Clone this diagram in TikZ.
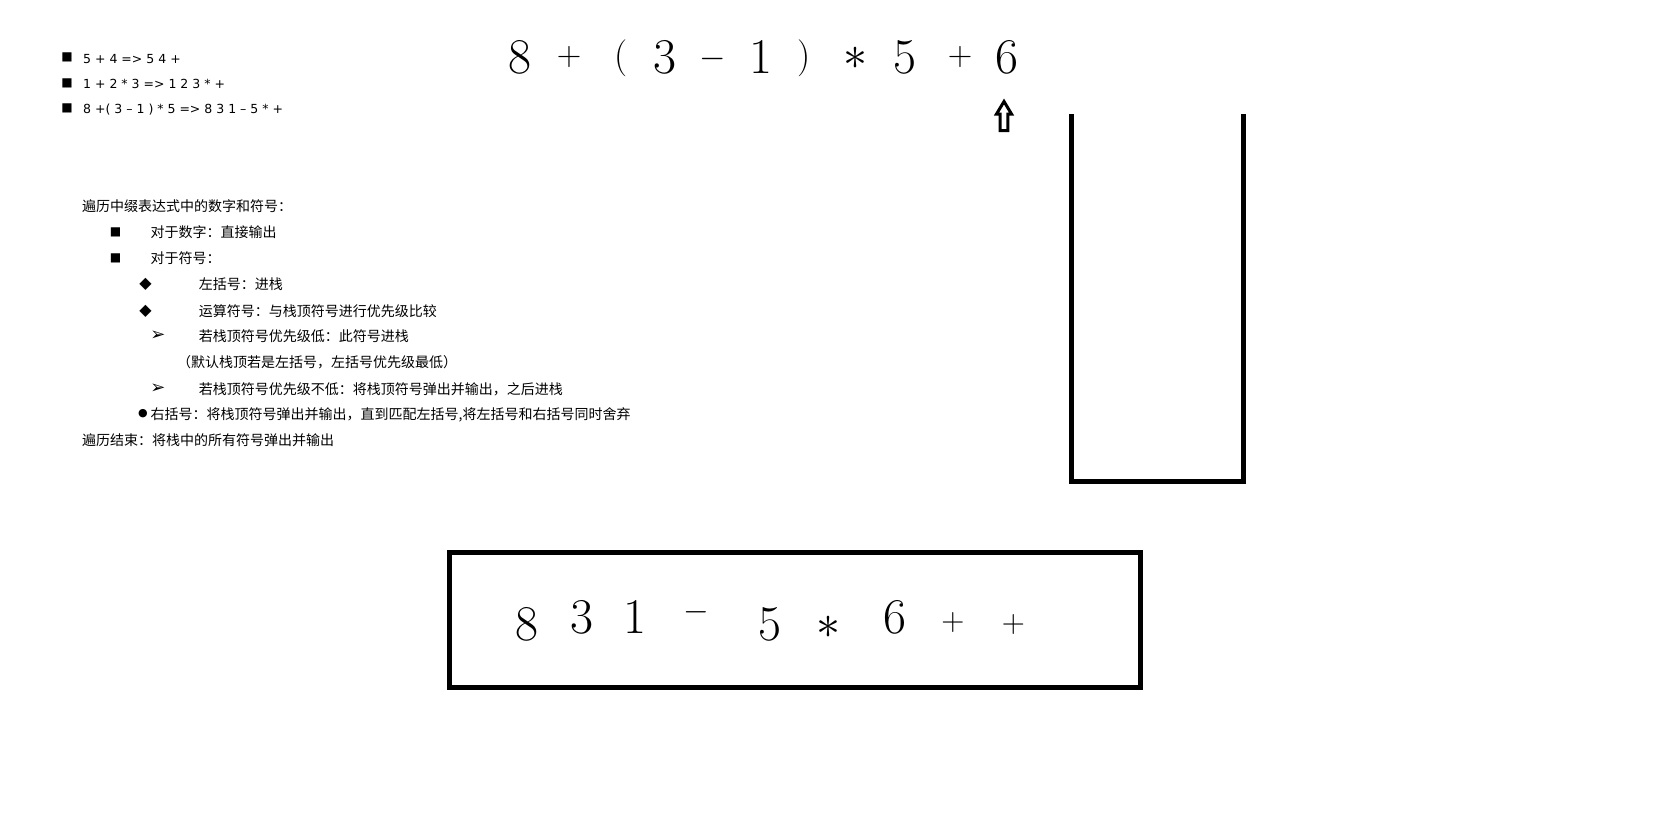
\documentclass[tikz,border=0pt]{standalone}
\usepackage{fix-cm}
\usepackage{fontspec}
\newfontfamily\cjk{Noto Sans CJK SC}
\newfontfamily\dejavu{DejaVu Sans}

\begin{document}
\begin{tikzpicture}[x=1pt, y=-1pt,
    dig/.style={inner sep=0, anchor=base, font=\fontsize{50}{50}\selectfont},
    op/.style={inner sep=0, font=\fontsize{#1}{#1}\selectfont},
    par/.style={inner sep=0, font=\fontsize{37}{37}\selectfont},
    star/.style={inner sep=0, font=\fontsize{48}{48}\selectfont},
    en/.style={inner sep=0, anchor=base west, font=\dejavu\fontsize{12.5}{12.5}\selectfont},
    cn/.style={inner sep=0, anchor=base west, font=\cjk\fontsize{14}{14}\selectfont},
    bul/.style={inner sep=0, font=\dejavu\fontsize{#1}{#1}\selectfont}]
                \useasboundingbox (0,0) rectangle (1674,830);
                \node[bul=12] (b1) at (67,57.7) {■};
                \node[bul=12] (b2) at (67,83.3) {■};
                \node[bul=12] (b3) at (67,108.5) {■};
                \node[en] (ex1) at (83,63.3) {5 + 4 => 5 4 +};
                \node[en] (ex2) at (83,88.5) {1 + 2 * 3 => 1 2 3 * +};
                \node[en] (ex3) at (83,113.8) {8 +( 3 – 1 ) * 5 => 8 3 1 – 5 * +};
                \node[dig] (e8) at (520,73.5) {8};
                \node[op=34] (ep1) at (569,56.7) {$+$};
                \node[par] (elp) at (621,58.5) {(};
                \node[dig] (e3) at (665,73.5) {3};
                \node[op=34] (em) at (713,59.3) {$-$};
                \node[dig] (e1) at (761,73.5) {1};
                \node[par] (erp) at (804,58.5) {)};
                \node[star] (es) at (855,58) {$\ast$};
                \node[dig] (e5) at (905,73.5) {5};
                \node[op=34] (ep2) at (960,56.7) {$+$};
                \node[dig] (e6) at (1007,73.5) {6};
                \draw[line width=3, line join=miter, fill=white] (1000.2,130.5) -- (1000.2,114) -- (996.5,114) -- (1004,101.5) -- (1011.5,114) -- (1007.8,114) -- (1007.8,130.5) -- cycle;
                \draw[line width=5, line join=miter] (1071.5,114) -- (1071.5,481.5) -- (1243.5,481.5) -- (1243.5,114);
                \node[cn] (t1) at (82,211.5) {遍历中缀表达式中的数字和符号：};
                \node[bul=12] (c2) at (115.5,232) {■};
                \node[cn] (t2) at (150.5,237.5) {对于数字：直接输出};
                \node[bul=12] (c3) at (115.5,258) {■};
                \node[cn] (t3) at (150.5,263.5) {对于符号：};
                \node[bul=16] (c4) at (145.5,284) {◆};
                \node[cn] (t4) at (198.6,289.5) {左括号：进栈};
                \node[bul=16] (c5) at (145.5,311) {◆};
                \node[cn] (t5) at (198.6,316.5) {运算符号：与栈顶符号进行优先级比较};
                \node[bul=18] (c6) at (158,336) {➢};
                \node[cn] (t6) at (198.6,341.5) {若栈顶符号优先级低：此符号进栈};
                \node[cn] (t7) at (177,367.5) {（默认栈顶若是左括号，左括号优先级最低）};
                \node[bul=18] (c8) at (158,389) {➢};
                \node[cn] (t8) at (198.6,394.5) {若栈顶符号优先级不低：将栈顶符号弹出并输出，之后进栈};
                \node[bul=11] (c9) at (143,414) {●};
                \node[cn] (t9) at (150.5,419.5) {右括号：将栈顶符号弹出并输出，直到匹配左括号,将左括号和右括号同时舍弃};
                \node[cn] (t10) at (82,445.5) {遍历结束：将栈中的所有符号弹出并输出};
                \node[draw, line width=5, inner sep=0, minimum width=690.5, minimum height=135.5] (outbox) at (794.75,619.75) {};
                \node[dig] (o8) at (527,640) {8};
                \node[dig] (o3) at (582,633.6) {3};
                \node[dig] (o1) at (635,633.6) {1};
                \node[op=33] (om) at (696,612) {$-$};
                \node[dig] (o5) at (770,640) {5};
                \node[star] (os) at (828,627) {$\ast$};
                \node[dig] (o6) at (894.5,633.6) {6};
                \node[op=32] (op1) at (953,622.7) {$+$};
                \node[op=32] (op2) at (1013.5,624.3) {$+$};
            \end{tikzpicture}
\end{document}
